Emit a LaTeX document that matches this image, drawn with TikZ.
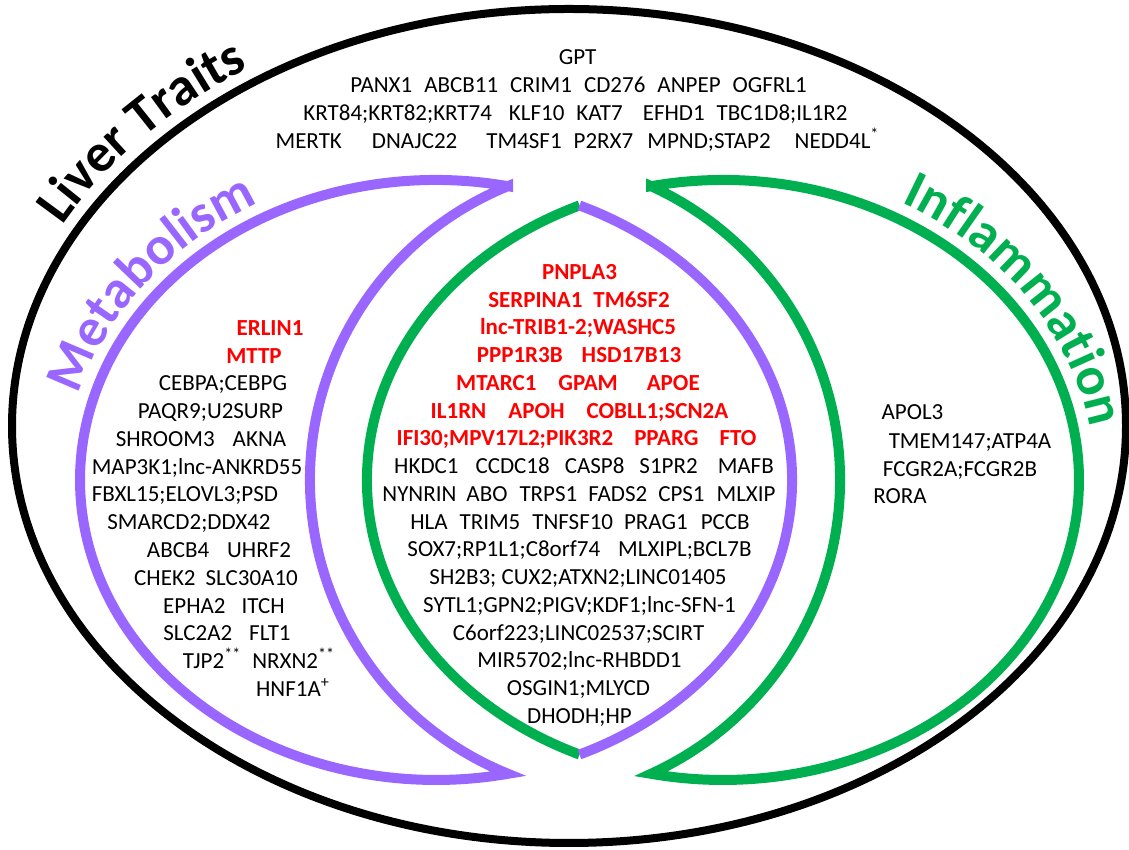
\documentclass[tikz,border=0pt]{standalone}
\usepackage{fontspec}
\setmainfont{Carlito}
\usetikzlibrary{decorations.text}
\definecolor{metab}{RGB}{153,102,255}
\definecolor{inflam}{RGB}{0,176,80}

\begin{document}
\begin{tikzpicture}[x=0.5pt, y=0.5pt,
    gene/.style={anchor=base, inner sep=0pt, font=\fontsize{11.5}{13}\selectfont},
    hit/.style={gene, text=red, font=\fontsize{11.5}{13}\selectfont\bfseries},
    ring/.style={line width=4pt},
    moon/.style={line width=5pt, line join=miter}]

  \useasboundingbox (0,0) rectangle (1129,850);
  \def\gap#1{\hspace*{#1pt}}

  % Outer ellipse: liver traits
  \draw[ring] (569,424) ellipse [x radius=557, y radius=417];

  % Ellipse sizes shared by both sets
  \def\rx{356}
  \def\ry{300}

  % Metabolism crescent (outer arc + inner arc, tips at x=508)
  \draw[moon, metab] (436,370) ++(78.33:{\rx} and {\ry})
    arc[start angle=78.33, end angle=281.67, x radius=\rx, y radius=\ry]
    arc[start angle=247.95, end angle=112.05, radius=317] -- cycle;

  % Inflammation crescent (tips at x=651)
  \draw[moon, inflam] (723,370) ++(101.67:{\rx} and {\ry})
    arc[start angle=101.67, end angle=-101.67, x radius=\rx, y radius=\ry]
    arc[start angle=-65.5, end angle=65.5, radius=322.9] -- cycle;

  % Overlap lens: green left side, purple right side
  \draw[moon, inflam] (723,370) ++(113.77:{\rx} and {\ry})
    arc[start angle=113.77, end angle=246.23, x radius=\rx, y radius=\ry];
  \draw[moon, metab] (436,370) ++(66.23:{\rx} and {\ry})
    arc[start angle=66.23, end angle=-66.23, x radius=\rx, y radius=\ry];

  % Curved titles
  \path[decorate, decoration={text along path, text align=center,
      text={|\fontsize{27}{31}\selectfont\bfseries|Liver Traits}}]
    (569,424) ++(172:572 and 432) arc[start angle=172, end angle=108, x radius=572, y radius=432];
  \path[decorate, decoration={text along path, text align=center,
      text={|\fontsize{27}{31}\selectfont\bfseries\color{metab}|Metabolism}}]
    (436,370) ++(173:371 and 315) arc[start angle=173, end angle=111, x radius=371, y radius=315];
  \path[decorate, decoration={text along path, text align=center,
      text={|\fontsize{27}{31}\selectfont\bfseries\color{inflam}|Inflammation}}]
    (723,370) ++(67:372 and 316) arc[start angle=67, end angle=3, x radius=372, y radius=316];

  % Liver traits only
  \node[gene] (gpt) at (577.5,785.6) {GPT};
  \node[gene] (panx) at (578.5,757.6) {PANX1\gap{6}ABCB11\gap{6}CRIM1\gap{6}CD276\gap{6}ANPEP\gap{6}OGFRL1};
  \node[gene] (krt) at (575.5,729.6) {KRT84;KRT82;KRT74\gap{8.5}KLF10\gap{6}KAT7\gap{10}EFHD1\gap{6}TBC1D8;IL1R2};
  \node[gene] (mertk) at (577.5,701.6) {MERTK\gap{15}DNAJC22\gap{14.5}TM4SF1\gap{6}P2RX7\gap{7}MPND;STAP2\gap{12}NEDD4L\textsuperscript{*}};

  % Shared by metabolism and inflammation
  \node[hit] (pnpla) at (579.5,570.6) {PNPLA3};
  \node[hit] (serpina) at (579,542.85) {SERPINA1\gap{5.5}TM6SF2};
  \node[hit] (trib) at (578,515.1) {lnc-TRIB1-2;WASHC5};
  \node[hit] (ppp) at (579,487.35) {PPP1R3B\gap{9.5}HSD17B13};
  \node[hit] (mtarc) at (578,459.6) {MTARC1\gap{11}GPAM\gap{14.5}APOE};
  \node[hit] (ilrn) at (579.5,431.85) {IL1RN\gap{11}APOH\gap{11}COBLL1;SCN2A};
  \node[hit] (ifi) at (576.5,404.1) {IFI30;MPV17L2;PIK3R2\gap{10.5}PPARG\gap{10.5}FTO};
  \node[gene] (hkdc) at (584,376.35) {HKDC1\gap{8.5}CCDC18\gap{7.5}CASP8\gap{7.5}S1PR2\gap{10}MAFB};
  \node[gene] (nynrin) at (579,348.6) {NYNRIN\gap{5}ABO\gap{6}TRPS1\gap{5.5}FADS2\gap{5.5}CPS1\gap{6}MLXIP};
  \node[gene] (hla) at (580,320.85) {HLA\gap{6}TRIM5\gap{6}TNFSF10\gap{5.5}PRAG1\gap{6.5}PCCB};
  \node[gene] (sox) at (579.5,293.1) {SOX7;RP1L1;C8orf74\gap{9}MLXIPL;BCL7B};
  \node[gene] (shb) at (578,265.35) {SH2B3; CUX2;ATXN2;LINC01405};
  \node[gene] (sytl) at (579.5,237.6) {SYTL1;GPN2;PIGV;KDF1;lnc-SFN-1};
  \node[gene] (corf) at (578.5,209.85) {C6orf223;LINC02537;SCIRT};
  \node[gene] (mir) at (579.5,182.1) {MIR5702;lnc-RHBDD1};
  \node[gene] (osgin) at (578.5,154.35) {OSGIN1;MLYCD};
  \node[gene] (dhodh) at (579.5,126.6) {DHODH;HP};

  % Metabolism only
  \node[hit] (erlin) at (270,514.6) {ERLIN1};
  \node[hit] (mttp) at (254,486.8) {MTTP};
  \node[gene] (cebpa) at (223,459.1) {CEBPA;CEBPG};
  \node[gene] (paqr) at (210.5,431.3) {PAQR9;U2SURP};
  \node[gene] (shroom) at (201,403.5) {SHROOM3\gap{9}AKNA};
  \node[gene] (map) at (197,375.7) {MAP3K1;lnc-ANKRD55};
  \node[gene] (fbxl) at (185,348) {FBXL15;ELOVL3;PSD};
  \node[gene] (smarc) at (189,320.2) {SMARCD2;DDX42};
  \node[gene] (abcb) at (219,292.4) {ABCB4\gap{9}UHRF2};
  \node[gene] (chek) at (216,264.7) {CHEK2\gap{5}SLC30A10};
  \node[gene] (epha) at (224,236.9) {EPHA2\gap{8}ITCH};
  \node[gene] (slc) at (227,209.1) {SLC2A2\gap{8.5}FLT1};
  \node[gene] (tjp) at (259,181.3) {TJP2\textsuperscript{**}\gap{5.5}NRXN2\textsuperscript{**}};
  \node[gene] (hnf) at (293,153.6) {HNF1A\textsuperscript{+}};

  % Inflammation only
  \node[gene] (apol) at (912.5,430.6) {APOL3};
  \node[gene] (tmem) at (970,401.6) {TMEM147;ATP4A};
  \node[gene] (fcgr) at (960,373.6) {FCGR2A;FCGR2B};
  \node[gene] (rora) at (900,346.6) {RORA};
\end{tikzpicture}
\end{document}
